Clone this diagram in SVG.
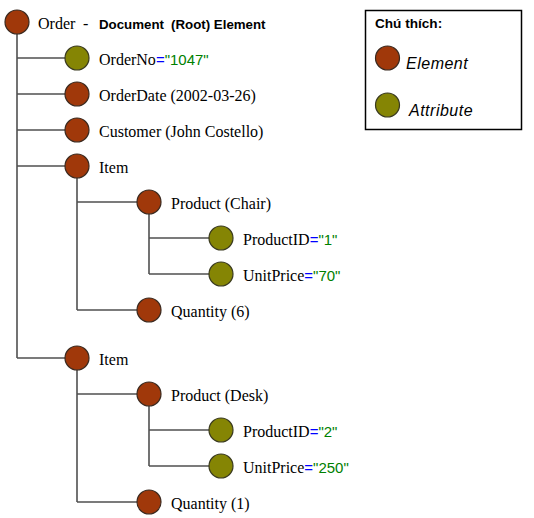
<svg xmlns="http://www.w3.org/2000/svg" width="534" height="518" viewBox="0 0 534 518">
<style>
.el{fill:#a0380a;stroke:#3a2a20;stroke-width:1.2}
.at{fill:#858504;stroke:#3a3a20;stroke-width:1.2}
.ln{stroke:#505050;stroke-width:1.6;fill:none}
.nm{font-family:"Liberation Serif","Times New Roman",serif;font-size:16px;fill:#000}
.eq{fill:#0000ff;font-family:"Liberation Sans",Arial,sans-serif;font-size:15px}
.val{fill:#008000;font-family:"Liberation Sans",Arial,sans-serif;font-size:15px}
.bold{font-family:"Liberation Sans",Arial,sans-serif;font-size:13.3px;font-weight:bold;fill:#000}
.leg{font-family:"Liberation Sans",Arial,sans-serif;font-size:16px;font-style:italic;fill:#000;letter-spacing:0.5px}
</style>
<rect width="534" height="518" fill="#ffffff"/>
<g id="connectors">
<path class="ln" d="M17 34 V358 M17 58 H65 M17 94 H65 M17 130 H65 M17 166 H65 M17 358 H65"/>
<path class="ln" d="M77 178 V310 M77 202 H137 M77 310 H137"/>
<path class="ln" d="M149 214 V274 M149 238 H209 M149 274 H209"/>
<path class="ln" d="M77 370 V502 M77 394 H137 M77 502 H137"/>
<path class="ln" d="M149 406 V466 M149 430 H209 M149 466 H209"/>
</g>
<g id="root"><circle class="el" cx="17" cy="22" r="12"/><text class="nm" x="38" y="29">Order</text><text class="nm" x="83" y="29">-</text><text class="bold" x="99" y="29">Document</text><text class="bold" x="171" y="29">(Root) Element</text></g>
<g id="orderno"><circle class="at" cx="77" cy="58" r="12"/><text x="99" y="64.5"><tspan class="nm">OrderNo</tspan><tspan class="eq">=</tspan><tspan class="val">"1047"</tspan></text></g>
<g id="orderdate"><circle class="el" cx="77" cy="94" r="12"/><text class="nm" x="99" y="100.5">OrderDate (2002-03-26)</text></g>
<g id="customer"><circle class="el" cx="77" cy="130" r="12"/><text class="nm" x="99" y="136.5">Customer (John Costello)</text></g>
<g id="item1"><circle class="el" cx="77" cy="166" r="12"/><text class="nm" x="99" y="172.5">Item</text></g>
<g id="product1"><circle class="el" cx="149" cy="202" r="12"/><text class="nm" x="171" y="208.5">Product (Chair)</text></g>
<g id="productid1"><circle class="at" cx="221" cy="238" r="12"/><text x="243" y="244.5"><tspan class="nm">ProductID</tspan><tspan class="eq">=</tspan><tspan class="val">"1"</tspan></text></g>
<g id="unitprice1"><circle class="at" cx="221" cy="274" r="12"/><text x="243" y="280.5"><tspan class="nm">UnitPrice</tspan><tspan class="eq">=</tspan><tspan class="val">"70"</tspan></text></g>
<g id="quantity1"><circle class="el" cx="149" cy="310" r="12"/><text class="nm" x="171" y="316.5">Quantity (6)</text></g>
<g id="item2"><circle class="el" cx="77" cy="358" r="12"/><text class="nm" x="99" y="364.5">Item</text></g>
<g id="product2"><circle class="el" cx="149" cy="394" r="12"/><text class="nm" x="171" y="400.5">Product (Desk)</text></g>
<g id="productid2"><circle class="at" cx="221" cy="430" r="12"/><text x="243" y="436.5"><tspan class="nm">ProductID</tspan><tspan class="eq">=</tspan><tspan class="val">"2"</tspan></text></g>
<g id="unitprice2"><circle class="at" cx="221" cy="466" r="12"/><text x="243" y="472.5"><tspan class="nm">UnitPrice</tspan><tspan class="eq">=</tspan><tspan class="val">"250"</tspan></text></g>
<g id="quantity2"><circle class="el" cx="149" cy="502" r="12"/><text class="nm" x="171" y="508.5">Quantity (1)</text></g>
<g id="legend">
<rect x="365.5" y="10.5" width="156" height="119" fill="#ffffff" stroke="#000" stroke-width="1.5"/>
<text class="bold" x="375" y="28" style="font-size:13.6px">Chú thích:</text>
<circle class="el" cx="387.5" cy="58" r="12"/>
<text class="leg" x="406" y="69">Element</text>
<circle class="at" cx="387.5" cy="105" r="12"/>
<text class="leg" x="409" y="116">Attribute</text>
</g>
</svg>
